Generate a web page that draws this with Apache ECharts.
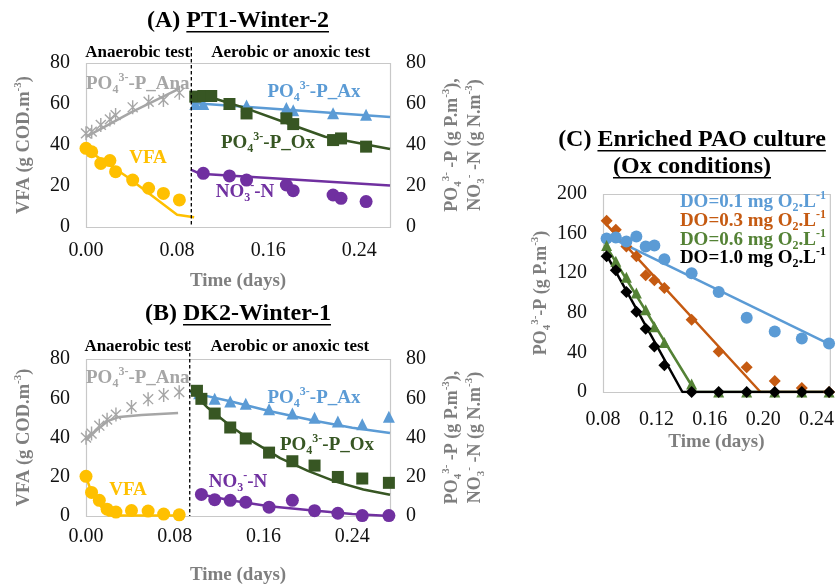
<!DOCTYPE html>
<html><head><meta charset="utf-8">
<script src="https://cdn.jsdelivr.net/npm/echarts@6/dist/echarts.min.js"></script>
<style>html,body{margin:0;padding:0;background:#fff}#c{width:837px;height:586px}</style>
</head><body><div id="c"></div>
<script>
// ---------------- Panel A : PT1-Winter-2 ----------------
const aAnaTime = [0.000, 0.005, 0.013, 0.021, 0.026, 0.041, 0.055, 0.068, 0.082];
const aPAna    = [45.7, 46.5, 49.8, 52.5, 54.6, 58.4, 61.1, 62.0, 65.5];
const aVFA     = [38.4, 36.7, 31.0, 32.4, 27.0, 22.9, 18.9, 16.4, 13.2];
const aPAnaFitT = [0.000, 0.040, 0.082];
const aPAnaFitV = [44.0, 56.0, 67.5];
const aVFAFitT  = [0.000, 0.036, 0.080, 0.095];
const aVFAFitV  = [38.0, 24.5, 6.0, 4.8];
const aAxTime  = [0.096, 0.103, 0.126, 0.141, 0.176, 0.182, 0.217, 0.246];
const aPAx     = [60.0, 60.0, 60.0, 59.3, 58.0, 57.0, 55.5, 54.8];
const aOxTime  = [0.096, 0.103, 0.110, 0.126, 0.141, 0.176, 0.182, 0.217, 0.224, 0.246];
const aPOx     = [63.6, 63.9, 63.9, 60.0, 55.4, 53.0, 50.2, 42.4, 43.2, 39.2];
const aNO3Time = [0.103, 0.126, 0.141, 0.176, 0.182, 0.217, 0.224, 0.246];
const aNO3     = [26.2, 24.9, 22.9, 20.5, 17.7, 15.6, 14.0, 12.4];
const aPAxFitT = [0.093, 0.267];
const aPAxFitV = [60.5, 53.6];
const aPOxFitT = [0.093, 0.115, 0.140, 0.175, 0.210, 0.267];
const aPOxFitV = [62.5, 62.3, 58.0, 51.0, 44.0, 38.0];
const aNO3FitT = [0.092, 0.100, 0.267];
const aNO3FitV = [28.0, 26.0, 20.3];
const aSplit = 0.0925;
const aMaxT = 0.267;

// ---------------- Panel B : DK2-Winter-1 ----------------
const bAnaTime = [0.000, 0.005, 0.012, 0.019, 0.027, 0.041, 0.056, 0.070, 0.084];
const bPAna    = [39.9, 42.0, 46.0, 49.1, 51.7, 55.5, 59.5, 61.7, 63.1];
const bVFA     = [20.2, 12.0, 8.0, 3.5, 2.0, 2.8, 2.5, 1.0, 0.6];
const bPAnaFitT = [0.000, 0.010, 0.020, 0.030, 0.050, 0.083];
const bPAnaFitV = [38.5, 44.0, 48.5, 50.5, 51.5, 52.5];
const bVFAFitT  = [0.000, 0.005, 0.012, 0.020, 0.085];
const bVFAFitV  = [20.0, 12.0, 6.0, 0.3, 0.3];
const bAxTime  = [0.102, 0.116, 0.130, 0.144, 0.165, 0.186, 0.206, 0.227, 0.249, 0.273];
const bPAx     = [62.5, 59.7, 58.4, 57.2, 54.4, 52.2, 50.1, 48.1, 46.8, 50.6];
const bOxTime  = [0.100, 0.104, 0.116, 0.130, 0.144, 0.165, 0.186, 0.206, 0.227, 0.249, 0.273];
const bPOx     = [63.8, 59.7, 52.2, 45.1, 39.5, 32.3, 27.9, 25.7, 19.9, 19.1, 16.9];
const bNO3Time = [0.104, 0.116, 0.130, 0.144, 0.165, 0.186, 0.206, 0.227, 0.249, 0.273];
const bNO3     = [11.0, 8.3, 8.0, 7.0, 4.5, 8.0, 2.7, 1.4, 0.2, 0.2];
const bPAxFitT = [0.094, 0.130, 0.165, 0.206, 0.240, 0.274];
const bPAxFitV = [63.0, 58.5, 53.5, 48.5, 45.0, 42.3];
const bPOxFitT = [0.094, 0.110, 0.130, 0.150, 0.175, 0.200, 0.225, 0.250, 0.274];
const bPOxFitV = [64.0, 55.0, 46.0, 38.0, 29.5, 23.0, 17.5, 13.5, 10.8];
const bNO3FitT = [0.104, 0.130, 0.165, 0.200, 0.240, 0.274];
const bNO3FitV = [11.0, 8.0, 5.0, 3.0, 1.0, 0.0];
const bSplit = 0.0935;
const bMaxT = 0.274;

// ---------------- Panel C : Enriched PAO culture ----------------
const cTime = [0.0827, 0.0896, 0.0975, 0.105, 0.112, 0.1185, 0.126, 0.1464, 0.1667, 0.1877, 0.2087, 0.229, 0.2494];
const cDO01 = [155, 156, 152, 157, 147, 148, 134, 120, 101, 75, 61, 54, 49];
const cDO03 = [173, 164, 147, 137, 118, 113, 105, 73, 41, 25, 11, 4, 0];
const cDO06 = [148, 132, 116, 100, 83, 66, 50, 8, 0, 0, 0, 0, 0];
const cDO10 = [137, 123, 101, 81, 64, 46, 27, 0, 0, 0, 0, 0, 0];
const cFit01T = [0.082, 0.250];   const cFit01V = [158.5, 48];
const cFit03T = [0.082, 0.198, 0.250]; const cFit03V = [170, 0, 0];
const cFit06T = [0.082, 0.1494, 0.250]; const cFit06V = [148, 0, 0];
const cFit10T = [0.082, 0.1395, 0.250]; const cFit10V = [140, 0, 0];
const cMinT = 0.08, cMaxT = 0.25;

// ---------------- styling ----------------
const FONT = "'Liberation Serif','Times New Roman',serif";
const GRAY = '#a6a6a6', YEL = '#ffc000', BLUE = '#5b9bd5', DGREEN = '#375623', PURP = '#7030a0';
const ORANGE = '#c55a11', GREEN = '#548235', BLACK = '#000000';
const AXNAME = '#7f7f7f';
const ASTER = 'path://M-1,-10 L1,-10 L1,10 L-1,10 Z M-6.3,-7.7 L7.7,6.3 L6.3,7.7 L-7.7,-6.3 Z M7.7,-6.3 L-6.3,7.7 L-7.7,6.3 L6.3,-7.7 Z';

function pairs(t, v) { return t.map((x, i) => [x, v[i]]); }
// rich styles: key = 'color' for echarts labels, 'fill' for graphic texts
function rich(size, color, key) {
  key = key || 'color';
  const s = Math.round(size * 0.62);
  const base = {fontFamily: FONT, fontWeight: 'bold'};
  const mk = (o) => { const r = Object.assign({}, base, o); r[key] = color; return r; };
  return {
    b: mk({fontSize: size, lineHeight: size + 5}),
    sub: mk({fontSize: s, verticalAlign: 'bottom', lineHeight: s}),
    sup: mk({fontSize: s, verticalAlign: 'top', lineHeight: s})
  };
}
const fmt2 = v => v.toFixed(2);

function xAx(grid, min, max, interval, margin, gap) {
  return {
    type: 'value', gridIndex: grid, min: min, max: max, interval: interval,
    axisLine: {show: false}, axisTick: {show: false}, splitLine: {show: false},
    axisLabel: {formatter: fmt2, fontFamily: FONT, fontSize: 20, color: '#111', margin: margin, showMaxLabel: false},
    name: 'Time (days)', nameLocation: 'middle', nameGap: gap,
    nameTextStyle: {fontFamily: FONT, fontWeight: 'bold', fontSize: 19, color: AXNAME}
  };
}
function yAx(grid, pos, max, interval, name, gap, size) {
  return {
    type: 'value', gridIndex: grid, position: pos, min: 0, max: max, interval: interval,
    axisLine: {show: false}, axisTick: {show: false}, splitLine: {show: false},
    axisLabel: {fontFamily: FONT, fontSize: 20, color: '#111', margin: 16},
    name: name, nameLocation: 'middle', nameGap: gap, nameRotate: 90,
    nameTextStyle: {rich: rich(size, AXNAME)}
  };
}
const leftName = '{b|VFA (g COD.m}{sup|-3}{b|)}';
const rightName = '{b|PO}{sub|4}{sup|3-}{b| -P (g P.m}{sup|-3}{b|),}\n{b|NO}{sub|3}{sup|-}{b| -N (g N.m}{sup|-3}{b|)}';
const cName = '{b|PO}{sub|4}{sup|3-}{b|-P (g P.m}{sup|-3}{b|)}';

function fit(xi, yi, t, v, color, z) {
  return {type: 'line', xAxisIndex: xi, yAxisIndex: yi, data: pairs(t, v), symbol: 'none',
    lineStyle: {color: color, width: 2.5}, z: z || 2, silent: true};
}
function pts(xi, yi, t, v, symbol, size, color, z) {
  return {type: 'scatter', xAxisIndex: xi, yAxisIndex: yi, data: pairs(t, v), symbol: symbol,
    symbolSize: size, itemStyle: {color: color, opacity: 1}, z: z || 3};
}

const chart = echarts.init(document.getElementById('c'), null, {renderer: 'canvas'});
const grids = [
  {left: 86, top: 63, width: 304, height: 164},
  {left: 86, top: 359, width: 304, height: 161},
  {left: 603, top: 194, width: 230, height: 198}
];

const option = {
  animation: false,
  backgroundColor: '#ffffff',
  grid: grids.map(gr => Object.assign({}, gr)),
  xAxis: [
    xAx(0, 0, aMaxT, 0.08, 14, 45),
    xAx(1, 0, bMaxT, 0.08, 11, 50),
    xAx(2, cMinT, cMaxT, 0.04, 18, 41)
  ],
  yAxis: [
    yAx(0, 'left', 80, 20, leftName, 50, 18.5),
    yAx(0, 'right', 80, 20, rightName, 51, 18),
    yAx(1, 'left', 80, 20, leftName, 50, 18.5),
    yAx(1, 'right', 80, 20, rightName, 51, 18),
    yAx(2, 'left', 200, 40, cName, 45, 18)
  ],
  series: [
    // A
    fit(0, 0, aPAnaFitT, aPAnaFitV, GRAY),
    fit(0, 0, aVFAFitT, aVFAFitV, YEL),
    fit(0, 1, aPAxFitT, aPAxFitV, BLUE),
    fit(0, 1, aPOxFitT, aPOxFitV, DGREEN),
    fit(0, 1, aNO3FitT, aNO3FitV, PURP),
    pts(0, 0, aAnaTime, aPAna, ASTER, [11, 14], GRAY),
    pts(0, 0, aAnaTime, aVFA, 'circle', 13, YEL),
    pts(0, 1, aAxTime, aPAx, 'triangle', 12, BLUE),
    pts(0, 1, aOxTime, aPOx, 'rect', 12, DGREEN),
    pts(0, 1, aNO3Time, aNO3, 'circle', 13, PURP),
    // B
    fit(1, 2, bPAnaFitT, bPAnaFitV, GRAY),
    fit(1, 2, bVFAFitT, bVFAFitV, YEL),
    fit(1, 3, bPAxFitT, bPAxFitV, BLUE),
    fit(1, 3, bPOxFitT, bPOxFitV, DGREEN),
    fit(1, 3, bNO3FitT, bNO3FitV, PURP),
    pts(1, 2, bAnaTime, bPAna, ASTER, [11, 14], GRAY),
    pts(1, 2, bAnaTime, bVFA, 'circle', 13, YEL),
    pts(1, 3, bAxTime, bPAx, 'triangle', 12, BLUE),
    pts(1, 3, bOxTime, bPOx, 'rect', 12, DGREEN),
    pts(1, 3, bNO3Time, bNO3, 'circle', 13, PURP),
    // C
    fit(2, 4, cFit01T, cFit01V, BLUE),
    fit(2, 4, cFit03T, cFit03V, ORANGE),
    fit(2, 4, cFit06T, cFit06V, GREEN),
    fit(2, 4, cFit10T, cFit10V, BLACK),
    pts(2, 4, cTime, cDO03, 'diamond', 12, ORANGE),
    pts(2, 4, cTime, cDO01, 'circle', 12, BLUE),
    pts(2, 4, cTime, cDO06, 'triangle', 11, GREEN),
    pts(2, 4, cTime, cDO10, 'diamond', 12, BLACK)
  ]
};
chart.setOption(option);

// ---------------- annotations ----------------
const mctx = document.createElement('canvas').getContext('2d');
function textW(str, size, bold) {
  mctx.font = (bold ? 'bold ' : '') + size + 'px ' + FONT;
  return mctx.measureText(str).width;
}
const g = [];
// plot-area frames (Excel style light gray box), taken from the axes
[[0, 0], [1, 2], [2, 4]].forEach(([xi, yi], k) => {
  const xMin = [0, 0, cMinT][k], xMax = [aMaxT, bMaxT, cMaxT][k], yMax = [80, 80, 200][k];
  const x1 = chart.convertToPixel({xAxisIndex: xi}, xMin);
  const x2 = chart.convertToPixel({xAxisIndex: xi}, xMax);
  const y1 = chart.convertToPixel({yAxisIndex: yi}, yMax);
  const y2 = chart.convertToPixel({yAxisIndex: yi}, 0);
  g.push({type: 'rect', shape: {x: x1 + 0.5, y: y1 + 0.5, width: x2 - x1, height: y2 - y1},
    style: {fill: 'none', stroke: '#c8c8c8', lineWidth: 1.2}, z: 1, silent: true});
});
function titleU(prefix, under, cx, cy, size) {
  const w1 = prefix ? textW(prefix, size, true) : 0;
  const w2 = textW(under, size, true);
  const x0 = cx - (w1 + w2) / 2;
  const st = {fontFamily: FONT, fontWeight: 'bold', fontSize: size, fill: '#000', verticalAlign: 'middle', align: 'left'};
  if (prefix) g.push({type: 'text', x: x0, y: cy, style: Object.assign({text: prefix}, st), z: 10});
  g.push({type: 'text', x: x0 + w1, y: cy, style: Object.assign({text: under}, st), z: 10});
  const uy = cy + size * 0.36 + 2;
  g.push({type: 'line', shape: {x1: x0 + w1, y1: uy, x2: x0 + w1 + w2, y2: uy}, style: {stroke: '#000', lineWidth: 1.5}, z: 10});
}
function label(txt, x, y, size, color, align) {
  g.push({type: 'text', x: x, y: y, z: 10,
    style: {text: txt, rich: rich(size, color, 'fill'), align: align || 'center', verticalAlign: 'middle'}});
}
function plain(txt, x, y, size) {
  g.push({type: 'text', x: x, y: y, z: 10,
    style: {text: txt, fontFamily: FONT, fontWeight: 'bold', fontSize: size, fill: '#000', align: 'center', verticalAlign: 'middle'}});
}

titleU('(A) ', 'PT1-Winter-2', 238, 21, 24);
titleU('(B) ', 'DK2-Winter-1', 238, 314, 24);
titleU('(C) ', 'Enriched PAO culture', 692, 140, 24);
titleU('', '(Ox conditions)', 692, 167, 24);

function phase(xi, yiZero, split, maxT, topY, labY) {
  const xs = chart.convertToPixel({xAxisIndex: xi}, split);
  const xl = chart.convertToPixel({xAxisIndex: xi}, 0);
  const xr = chart.convertToPixel({xAxisIndex: xi}, maxT);
  const yb = chart.convertToPixel({yAxisIndex: yiZero}, 0);
  g.push({type: 'line', shape: {x1: xs, y1: topY, x2: xs, y2: yb}, style: {stroke: '#000', lineWidth: 1.3, lineDash: [3.5, 2.5]}, z: 9});
  plain('Anaerobic test', (xl + xs) / 2 - 1, labY, 17);
  plain('Aerobic or anoxic test', (xs + xr) / 2, labY, 17);
}
phase(0, 0, aSplit, aMaxT, 47, 53);
phase(1, 2, bSplit, bMaxT, 341, 347);

// panel A labels
label('{b|PO}{sub|4}{sup|3-}{b|-P_Ana}', 86, 84, 19, GRAY, 'left');
label('{b|VFA}', 148, 158, 19, YEL);
label('{b|PO}{sub|4}{sup|3-}{b|-P_Ax}', 314, 92, 19, BLUE);
label('{b|PO}{sub|4}{sup|3-}{b|-P_Ox}', 268, 143, 19, DGREEN);
label('{b|NO}{sub|3}{sup|-}{b|-N}', 245, 192, 19, PURP);
// panel B labels
label('{b|PO}{sub|4}{sup|3-}{b|-P_Ana}', 86, 378, 19, GRAY, 'left');
label('{b|VFA}', 128, 490, 19, YEL);
label('{b|PO}{sub|4}{sup|3-}{b|-P_Ax}', 314, 398, 19, BLUE);
label('{b|PO}{sub|4}{sup|3-}{b|-P_Ox}', 327, 445, 19, DGREEN);
label('{b|NO}{sub|3}{sup|-}{b|-N}', 238, 482, 19, PURP);
// panel C legend
label('{b|DO=0.1 mg O}{sub|2}{b|.L}{sup|-1}', 826, 202, 19, BLUE, 'right');
label('{b|DO=0.3 mg O}{sub|2}{b|.L}{sup|-1}', 826, 221, 19, ORANGE, 'right');
label('{b|DO=0.6 mg O}{sub|2}{b|.L}{sup|-1}', 826, 240, 19, GREEN, 'right');
label('{b|DO=1.0 mg O}{sub|2}{b|.L}{sup|-1}', 826, 258, 19, BLACK, 'right');

chart.setOption({graphic: g});
</script></body></html>
